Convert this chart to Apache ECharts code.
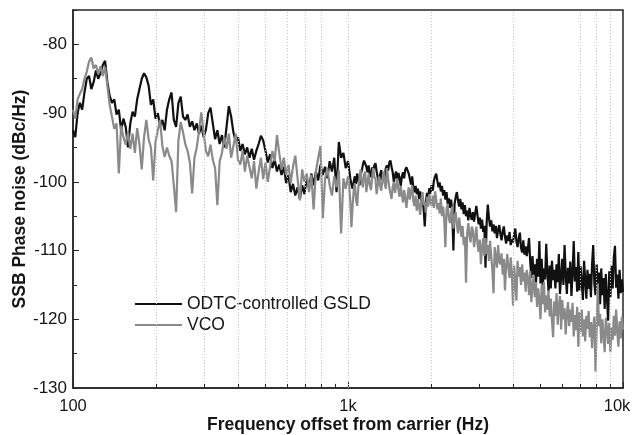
<!DOCTYPE html>
<html>
<head>
<meta charset="utf-8">
<script src="https://cdn.jsdelivr.net/npm/echarts@6/dist/echarts.min.js"></script>
<style>
  html, body { margin: 0; padding: 0; background: #fff; }
  #chart { width: 636px; height: 435px; }
</style>
</head>
<body>
<div id="chart"></div>
<script>
// Sweep resolution: 100 Hz–1 kHz at 120 points/decade, 1 kHz–10 kHz at 240 points/decade
const lowPointsPerDecade = 120;
const highPointsPerDecade = 240;

// SSB phase noise (dBc/Hz), 100 Hz .. 1 kHz — ODTC-controlled GSLD
const odtcLow = [
  -92.5, -93.5, -90, -88.5, -89.5, -87, -85, -84.6, -86.5, -85.5,
  -83.8, -85, -84.2, -83, -82.4, -85.5, -87.5, -88.5, -88, -90.2,
  -89.5, -92.5, -90.8, -92, -95, -91.5, -89.8, -90.5, -88, -86.5,
  -85, -84.2, -84.8, -86, -88.8, -88, -90.8, -90, -91.8, -91,
  -92.5, -89.5, -88, -87, -91, -92, -88.5, -87.6, -90.5, -91,
  -90.2, -92, -91.2, -92.5, -91.5, -93, -91.8, -93.5, -92.4, -90,
  -89.2, -91.5, -93.8, -92.5, -94.5, -93.2, -95, -92, -89, -90.5,
  -92.8, -94.2, -93.5, -95.5, -94.5, -96, -95, -96.5, -95.2, -96.8,
  -95.5, -94.5, -93.3, -94, -95.5, -97.2, -96, -98, -96.8, -98.5,
  -97.5, -99, -97.8, -100.2, -99, -101.5, -100.3, -102, -100.8, -102.5,
  -100.5, -101.8, -99.5, -101, -98.8, -100.5, -98.5, -99.8, -97.5, -99,
  -97.8, -99.5, -97, -98.5, -96.5, -101.5, -94.2, -96.5, -95.8, -98,
  -97
];

// SSB phase noise (dBc/Hz), above 1 kHz .. 10 kHz — ODTC-controlled GSLD
const odtcHigh = [
  -98.2, -99.5, -100.4, -101, -100, -99.2, -100.3, -98.8, -99.6, -100.5, -99, -98.4,
  -97.5, -96.9, -96.7, -97.8, -98.6, -97.6, -98.9, -99.3, -97.9, -98.4, -97.6, -97.3,
  -98.5, -99.4, -100.2, -99, -98.3, -99.7, -98.8, -99.5, -98, -97.6, -98.4, -97.2,
  -96.9, -97.8, -98.6, -100, -99.1, -98.5, -99.9, -98.7, -99.4, -100.6, -99.3, -98.6,
  -99.5, -98.2, -97.9, -97.7, -98.8, -99.6, -100.4, -99.2, -100.8, -101.5, -100.6, -101.8,
  -101, -102.5, -101.4, -103, -102, -104, -106.5, -102.8, -101.6, -102.4, -100.9, -101.7,
  -100.5, -101.3, -99.8, -99.2, -98.8, -99.9, -100.8, -100.1, -101.4, -100.6, -102, -101.2,
  -102.6, -101.5, -103.2, -102.4, -103.8, -102.6, -104.5, -110, -103.2, -102.2, -101.5, -102.7,
  -103.6, -102.5, -104, -103, -104.7, -103.4, -105, -104.2, -105.6, -103.8, -104.9, -105.5,
  -104.4, -105.8, -104.6, -103.5, -104.8, -106.2, -105.2, -106.8, -105.5, -107.3, -106.4, -112.5,
  -106, -103.3, -105.2, -106.5, -105.6, -107.2, -106.2, -107.5, -106.4, -108.2, -107, -106.3,
  -107.6, -108.5, -107.2, -106.5, -108, -109, -107.8, -108.6, -107.3, -109.2, -108.4, -108.8,
  -107.6, -106.8, -108.7, -109.5, -108.2, -107.4, -109.6, -110.3, -108.5, -110.6, -109.4, -110.8,
  -109.7, -108.2, -111.5, -114, -110.8, -113.5, -112, -115, -111.2, -113.8, -108.6, -114.8,
  -111.2, -115.3, -112.6, -114.2, -109, -113.2, -116, -112.2, -115.5, -111.5, -114.3, -112.8,
  -115.5, -112, -114.6, -110.5, -116.3, -113.8, -111.2, -115, -109.2, -113.5, -116.3, -112.5,
  -114.8, -111.6, -116.6, -113.2, -108.6, -114.5, -112.4, -116, -110.2, -115.8, -112.3, -114.6,
  -117.2, -111.5, -114.2, -117, -112.8, -115.6, -113.4, -116.8, -112, -109.2, -114.8, -116.5,
  -112, -115.2, -113.2, -117.8, -112.6, -116.5, -114, -118.5, -113.4, -116.9, -120.2, -113,
  -116.8, -112.2, -115.5, -111, -109.3, -115.4, -113.5, -117, -112.8, -116.2, -114.2, -116
];

// SSB phase noise (dBc/Hz), 100 Hz .. 1 kHz — free-running VCO
const vcoLow = [
  -89.5, -90.8, -88, -87.2, -86.5, -85, -84, -82.5, -81.9, -83.5,
  -83, -84.3, -83.2, -84.6, -83.3, -86, -88.8, -90.5, -92.3, -91.5,
  -98.8, -91.8, -93.5, -94.6, -92.8, -95.2, -93, -95.8, -92.2, -94.5,
  -98.2, -93.5, -91, -93.8, -95, -99.8, -94.2, -92.5, -91, -94.8,
  -96.4, -95, -96.2, -97, -100.5, -104.4, -94, -91.3, -92.8, -94.5,
  -95.5, -97.2, -101.7, -96.5, -95, -92.5, -89.9, -92.8, -95.5, -96.3,
  -94.6, -96.8, -98, -103.4, -97, -95.8, -93.5, -95.2, -93, -96.5,
  -94.8, -93, -96.8, -97.5, -95.5, -98.5, -96.2, -97.8, -99.5, -97,
  -101, -98.5, -96.5, -99.6, -97.2, -100, -97.8, -95.5, -97, -93.2,
  -95.8, -98.2, -96.5, -99, -97.5, -100.2, -97.8, -96.2, -99.5, -102.7,
  -98.2, -100, -98.8, -101.5, -99, -104, -98.5, -96.5, -94.8, -105.3,
  -99.5, -98, -100.5, -102, -99.2, -100.8, -98.3, -107.5, -99.5, -101,
  -99.2
];

// SSB phase noise (dBc/Hz), above 1 kHz .. 10 kHz — free-running VCO
const vcoHigh = [
  -100.5, -102.8, -106.6, -103.5, -101.2, -100.2, -102.6, -103.5, -100.8, -99.5, -98.2, -100.1,
  -100.8, -99, -98.5, -101.5, -100.2, -98.8, -100.4, -101.2, -99.6, -98, -99.3, -99.6,
  -101.8, -100.4, -99.2, -100.5, -101.3, -99.8, -98.5, -100.2, -101, -98, -99.5, -100.8,
  -101, -102.5, -100.8, -100, -101.6, -100.6, -99.5, -101.2, -102.2, -100.6, -101.8, -103,
  -101.2, -102.4, -103.8, -102, -100.8, -102.6, -101.5, -100.5, -102.8, -103.5, -102, -104.2,
  -102.5, -103.6, -104.8, -102.6, -101.5, -103.4, -103, -104.5, -102.2, -103.6, -101.8, -102.8,
  -103.5, -102, -103.8, -101.4, -102.6, -104, -103.1, -104.6, -102.4, -105, -103.6, -105.5,
  -109.5, -104, -103.2, -105.3, -106, -104.5, -103.6, -106.8, -105.2, -104.4, -106.2, -107.5,
  -105.2, -106.6, -108, -106.4, -109.2, -108, -114.7, -107.5, -106, -107.8, -108.8, -106.5,
  -107, -109.5, -108.2, -106.5, -109, -110.2, -108.4, -112, -109.6, -108.2, -110.8, -108.2,
  -110.5, -109.2, -111.5, -108.6, -110.8, -112.8, -116.2, -109.5, -111, -112.5, -109.2, -111.6,
  -112, -110.4, -113.5, -111.2, -115.8, -112.2, -110.5, -112.6, -114, -111, -113.2, -118,
  -112.2, -114.5, -117.3, -111.5, -113.8, -112.4, -115, -112, -114.5, -113.2, -116, -112.8,
  -114, -116.5, -113, -117.5, -115.2, -113.6, -116.8, -114.6, -118.2, -115.5, -117.2, -120,
  -115, -117.8, -114.6, -119, -116.5, -118.6, -115.8, -119.6, -117, -120.2, -122.6, -117.4,
  -119.5, -116.2, -120.8, -118, -116.6, -121.5, -117.2, -120, -118.4, -122.2, -119.2, -117.5,
  -121, -118.6, -120.4, -117.6, -122.5, -119.4, -121.6, -118.2, -124, -119, -121.8, -118.6,
  -122.5, -120, -123.2, -119.5, -121.4, -118.8, -122.6, -120.4, -124.2, -121, -119.6, -127.6,
  -121.5, -114.8, -121, -119.2, -123.5, -120, -122.2, -124.8, -119.8, -121.2, -123.6, -120.5,
  -124.8, -121.2, -123, -119.5, -122.4, -118.6, -121.8, -124, -120.3, -122.8, -119.6, -121.5
];

// Dotted reference lines and minor tick positions on the frequency axis
const gridFreqs = [200, 300, 400, 500, 600, 700, 800, 1000, 2000, 4000, 7000, 8000, 9000];
const minorTickFreqs = [200, 300, 400, 500, 600, 700, 800, 900, 2000, 3000, 4000, 5000, 6000, 7000, 8000, 9000];

// Frequency of each sample in the two sweep segments
const lowFreqs = odtcLow.map((_, i) => 100 * Math.pow(10, i / lowPointsPerDecade));
const highFreqs = odtcHigh.map((_, j) => 1000 * Math.pow(10, (j + 1) / highPointsPerDecade));
const allFreqs = lowFreqs.concat(highFreqs);

const pairs = vals => vals.map((v, i) => [allFreqs[i], v]);

const Y_MIN = -130, Y_MAX = -75;
const FONT = '"Liberation Sans", Arial, sans-serif';
const AXIS_COLOR = '#262626';
const TEXT_COLOR = '#151515';

const gridLines = gridFreqs.map(f => ({ xAxis: f }));
const minorTicks = minorTickFreqs.map(f => [
  { coord: [f, Y_MIN], lineStyle: { type: 'solid', color: AXIS_COLOR } },
  { coord: [f, Y_MIN + 0.6] }
]);

const chart = echarts.init(document.getElementById('chart'), null, { renderer: 'canvas' });

chart.setOption({
  animation: false,
  backgroundColor: '#fff',
  textStyle: { fontFamily: FONT },
  grid: {
    left: 73, right: 13, top: 10, bottom: 47,
    outerBoundsMode: 'none',
    containLabel: false,
    show: true, borderColor: AXIS_COLOR, borderWidth: 1.5
  },
  legend: {
    orient: 'vertical',
    left: 130, top: 290,
    itemWidth: 47, itemHeight: 2, itemGap: 3,
    icon: 'rect',
    textStyle: { fontSize: 17.5, color: TEXT_COLOR, fontFamily: FONT },
    data: ['ODTC-controlled GSLD', 'VCO']
  },
  xAxis: {
    type: 'log', logBase: 10, min: 100, max: 10000,
    name: 'Frequency offset from carrier (Hz)',
    nameLocation: 'middle', nameGap: 28,
    nameMoveOverlap: false,
    nameTextStyle: { fontWeight: 'bold', fontSize: 17.5, color: TEXT_COLOR, fontFamily: FONT },
    axisLine: { lineStyle: { color: AXIS_COLOR, width: 1.5 } },
    axisTick: { inside: true, length: 6, lineStyle: { color: AXIS_COLOR, width: 1 } },
    splitLine: { show: false },
    minorTick: { show: false },
    axisLabel: {
      fontSize: 16.5, color: TEXT_COLOR, margin: 10, fontFamily: FONT,
      formatter: v => {
        if (v >= 10000) return '{e|' + (v / 1000) + 'k}';
        if (v >= 1000) return (v / 1000) + 'k';
        return String(v);
      },
      rich: { e: { fontSize: 16.5, color: TEXT_COLOR, fontFamily: FONT, padding: [0, 12, 0, 0] } }
    }
  },
  yAxis: [
    {
      type: 'value', min: Y_MIN, max: Y_MAX, interval: 10,
      name: 'SSB Phase noise (dBc/Hz)',
      nameLocation: 'middle', nameGap: 44,
      nameMoveOverlap: false,
      nameTextStyle: { fontWeight: 'bold', fontSize: 17.5, color: TEXT_COLOR, fontFamily: FONT },
      axisLine: { show: true, lineStyle: { color: AXIS_COLOR, width: 1.5 } },
      axisTick: { show: true, inside: true, length: 6, lineStyle: { color: AXIS_COLOR } },
      splitLine: { show: false },
      axisLabel: {
        fontSize: 17, color: TEXT_COLOR, margin: 6, fontFamily: FONT,
        showMaxLabel: false,
        formatter: v => (v % 10 === 0 ? String(v) : '')
      }
    },
    {
      type: 'value', min: Y_MIN, max: Y_MAX, interval: 5,
      position: 'left',
      axisLine: { show: false },
      axisTick: { show: true, inside: true, length: 4, lineStyle: { color: AXIS_COLOR } },
      splitLine: { show: false },
      axisLabel: { show: false }
    }
  ],
  series: [
    {
      // carrier for the dotted frequency grid and minor ticks
      type: 'line', name: 'grid', data: [], z: 1, silent: true,
      markLine: {
        silent: true, symbol: 'none', animation: false,
        label: { show: false },
        data: gridLines.concat(minorTicks),
        lineStyle: { color: '#c2c2c2', type: [1, 2], width: 1 }
      }
    },
    {
      name: 'ODTC-controlled GSLD',
      type: 'line', data: pairs(odtcLow.concat(odtcHigh)),
      showSymbol: false, symbol: 'none', z: 3,
      color: '#111111',
      lineStyle: { color: '#111111', width: 2.2 }
    },
    {
      name: 'VCO',
      type: 'line', data: pairs(vcoLow.concat(vcoHigh)),
      showSymbol: false, symbol: 'none', z: 4,
      color: '#8a8a8a',
      lineStyle: { color: '#8a8a8a', width: 2.2 }
    }
  ]
});
</script>
</body>
</html>
